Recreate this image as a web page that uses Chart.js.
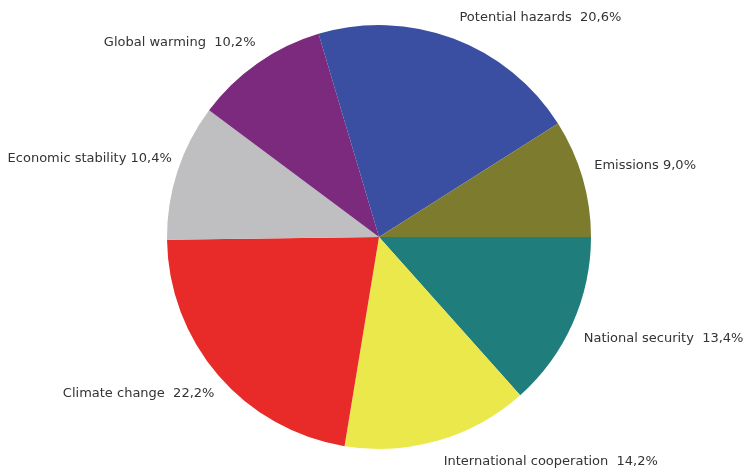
<!DOCTYPE html>
<html>
<head>
<meta charset="utf-8">
<script src="https://cdn.jsdelivr.net/npm/chart.js@4/dist/chart.umd.min.js"></script>
<style>
  html, body { margin: 0; padding: 0; background: #fff; }
  #wrap { width: 743px; height: 471px; }
</style>
</head>
<body>
<div id="wrap"><canvas id="pieChart" width="743" height="471"></canvas></div>
<script>
// order is clockwise from 3 o'clock (the original runs counter-clockwise)
const categories = ["National security", "International cooperation", "Climate change", "Economic stability", "Global warming", "Potential hazards", "Emissions"];
const shares = [13.4, 14.2, 22.2, 10.4, 10.2, 20.6, 9.0];
const sliceColors = ["#1f7e7b", "#ebe84b", "#e82b28", "#bfbfc1", "#7b2a7d", "#3a4ea2", "#7d7b2e"];
const labelGap = ["  ", "  ", "  ", " ", "  ", "  ", " "];

// draw "Name  12,3%" next to each slice
const outsideLabels = {
    id: "outsideLabels",
    afterDatasetsDraw(chart) {
        const ctx = chart.ctx;
        const meta = chart.getDatasetMeta(0);
        ctx.save();
        ctx.font = "13px 'DejaVu Sans', Verdana, sans-serif";
        ctx.fillStyle = "#333333";
        ctx.textBaseline = "middle";
        meta.data.forEach((arc, i) => {
            const p = arc.getProps(["x", "y", "startAngle", "endAngle", "outerRadius"], true);
            const mid = (p.startAngle + p.endAngle) / 2;
            const c = Math.cos(mid), s = Math.sin(mid);
            // keep the text box clear of the pie edge
            const x = p.x + 3 + c * (p.outerRadius + 9);
            const y = p.y + s * (p.outerRadius + 20) + Math.sign(s) * 7 * Math.abs(c);
            ctx.textAlign = c >= 0 ? "left" : "right";
            const text = categories[i] + labelGap[i] + shares[i].toFixed(1).replace(".", ",") + "%";
            ctx.fillText(text, x, y);
        });
        ctx.restore();
    }
};

const ctx = document.getElementById("pieChart").getContext("2d");
const pieChart = new Chart(ctx, {
    type: "pie",
    data: {
        labels: categories,
        datasets: [{
            data: shares,
            backgroundColor: sliceColors,
            borderWidth: 0
        }]
    },
    options: {
        responsive: false,
        animation: false,
        rotation: 90,
        layout: {
            padding: { top: 25, bottom: 22, left: 15, right: 0 }
        },
        plugins: {
            legend: { display: false },
            tooltip: { enabled: false }
        }
    },
    plugins: [outsideLabels]
});
</script>
</body>
</html>
